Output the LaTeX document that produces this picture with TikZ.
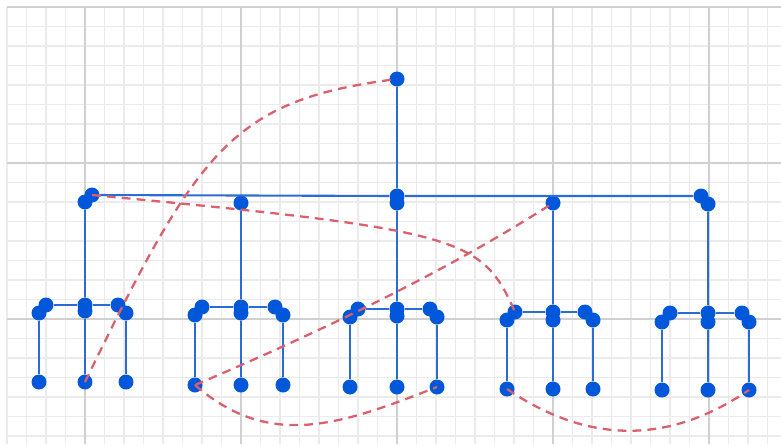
\documentclass[tikz,border=0pt]{standalone}
\definecolor{treeBlue}{HTML}{0057DA}
\definecolor{edgeBlue}{HTML}{2C6BD6}
\definecolor{linkRed}{HTML}{D9606C}
\definecolor{gridMinor}{HTML}{EBEBEB}
\definecolor{gridMajor}{HTML}{D0D0D0}

\begin{document}
\begin{tikzpicture}[
    x=0.02cm, y=-0.02cm,
    vertex/.style={circle, fill=treeBlue, inner sep=0pt, minimum size=0.3cm},
    tree edge/.style={edgeBlue, line width=1.2pt},
    cross link/.style={linkRed, line width=1.3pt, dash pattern=on 5pt off 3.5pt},
    minor line/.style={gridMinor, line width=0.6pt},
    major line/.style={gridMajor, line width=0.9pt},
  ]
  \useasboundingbox (0,0) rectangle (781,444);

  % Grid
  \foreach \gx in {7,26.5,...,781} \draw[minor line] (\gx,7) -- (\gx,444);
  \foreach \gy in {7,26.5,...,444} \draw[minor line] (7,\gy) -- (781,\gy);
  \foreach \gx in {85,241,397,553,709} \draw[major line] (\gx,7) -- (\gx,444);
  \foreach \gy in {7,163,319} \draw[major line] (7,\gy) -- (781,\gy);

  % Root and first level
  \node[vertex] (nR) at (397,79) {};
  \node[vertex] (nAt) at (92,195) {};
  \node[vertex] (nA) at (85,202) {};
  \node[vertex] (nB) at (241,203) {};
  \node[vertex] (nCt) at (397,196) {};
  \node[vertex] (nC) at (397,203) {};
  \node[vertex] (nD) at (553,203) {};
  \node[vertex] (nEt) at (701,196) {};
  \node[vertex] (nE) at (708,204) {};

  % Group 1
  \node[vertex] (g1Lt) at (46,305) {};
  \node[vertex] (g1L) at (39,313) {};
  \node[vertex] (g1Mt) at (85,305) {};
  \node[vertex] (g1M) at (85,311) {};
  \node[vertex] (g1Rt) at (118,305) {};
  \node[vertex] (g1R) at (126,313) {};
  \node[vertex] (f1L) at (39,382) {};
  \node[vertex] (f1M) at (85,382) {};
  \node[vertex] (f1R) at (126,382) {};

  % Group 2
  \node[vertex] (g2Lt) at (202,307) {};
  \node[vertex] (g2L) at (195,315) {};
  \node[vertex] (g2Mt) at (241,307) {};
  \node[vertex] (g2M) at (241,313) {};
  \node[vertex] (g2Rt) at (275,307) {};
  \node[vertex] (g2R) at (283,315) {};
  \node[vertex] (f2L) at (195,385) {};
  \node[vertex] (f2M) at (241,385) {};
  \node[vertex] (f2R) at (283,385) {};

  % Group 3
  \node[vertex] (g3Lt) at (358,309) {};
  \node[vertex] (g3L) at (350,317) {};
  \node[vertex] (g3Mt) at (397,309) {};
  \node[vertex] (g3M) at (397,316) {};
  \node[vertex] (g3Rt) at (430,309) {};
  \node[vertex] (g3R) at (437,317) {};
  \node[vertex] (f3L) at (350,387) {};
  \node[vertex] (f3M) at (397,387) {};
  \node[vertex] (f3R) at (437,387) {};

  % Group 4
  \node[vertex] (g4Lt) at (515,312) {};
  \node[vertex] (g4L) at (507,320) {};
  \node[vertex] (g4Mt) at (553,312) {};
  \node[vertex] (g4M) at (553,320) {};
  \node[vertex] (g4Rt) at (585,312) {};
  \node[vertex] (g4R) at (593,320) {};
  \node[vertex] (f4L) at (507,389) {};
  \node[vertex] (f4M) at (553,389) {};
  \node[vertex] (f4R) at (593,389) {};

  % Group 5
  \node[vertex] (g5Lt) at (670,313) {};
  \node[vertex] (g5L) at (662,322) {};
  \node[vertex] (g5Mt) at (708,313) {};
  \node[vertex] (g5M) at (708,322) {};
  \node[vertex] (g5Rt) at (742,313) {};
  \node[vertex] (g5R) at (749,322) {};
  \node[vertex] (f5L) at (662,390) {};
  \node[vertex] (f5M) at (708,390) {};
  \node[vertex] (f5R) at (749,390) {};

  % Tree edges
  \draw[tree edge] (nR) -- (nCt);
  \draw[tree edge] (nAt) -- (nCt) -- (nEt);
  \draw[tree edge] (nA) -- (g1Mt);
  \draw[tree edge] (nB) -- (g2Mt);
  \draw[tree edge] (nC) -- (g3Mt);
  \draw[tree edge] (nD) -- (g4Mt);
  \draw[tree edge] (nE) -- (g5Mt);
  \draw[tree edge] (g1Lt) -- (g1Mt) -- (g1Rt);
  \draw[tree edge] (g2Lt) -- (g2Mt) -- (g2Rt);
  \draw[tree edge] (g3Lt) -- (g3Mt) -- (g3Rt);
  \draw[tree edge] (g4Lt) -- (g4Mt) -- (g4Rt);
  \draw[tree edge] (g5Lt) -- (g5Mt) -- (g5Rt);
  \draw[tree edge] (g1L) -- (f1L);  \draw[tree edge] (g1M) -- (f1M);  \draw[tree edge] (g1R) -- (f1R);
  \draw[tree edge] (g2L) -- (f2L);  \draw[tree edge] (g2M) -- (f2M);  \draw[tree edge] (g2R) -- (f2R);
  \draw[tree edge] (g3L) -- (f3L);  \draw[tree edge] (g3M) -- (f3M);  \draw[tree edge] (g3R) -- (f3R);
  \draw[tree edge] (g4L) -- (f4L);  \draw[tree edge] (g4M) -- (f4M);  \draw[tree edge] (g4R) -- (f4R);
  \draw[tree edge] (g5L) -- (f5L);  \draw[tree edge] (g5M) -- (f5M);  \draw[tree edge] (g5R) -- (f5R);

  % Cross links
  \draw[cross link] (f1M.center) .. controls (199,148) and (232,100) .. (nR.center);
  \draw[cross link] (nAt.center) .. controls (465,230) and (482,238) .. (g4Lt.center);
  \draw[cross link] (f2L.center) .. controls (315,334) and (444,273) .. (nD.center);
  \draw[cross link] (f2L.center) .. controls (270,450) and (340,425) .. (f3R.center);
  \draw[cross link] (f4L.center) .. controls (588,444) and (668,445) .. (f5R.center);
\end{tikzpicture}
\end{document}
